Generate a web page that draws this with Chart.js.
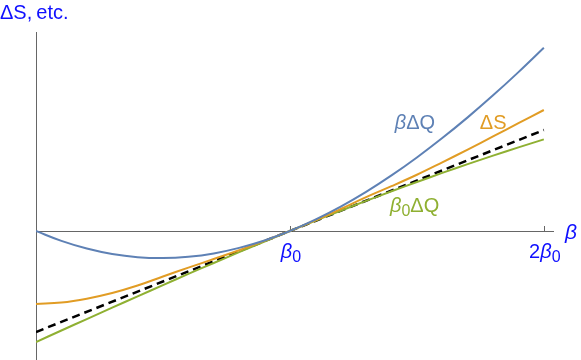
<!DOCTYPE html>
<html><head><meta charset="utf-8">
<script src="https://cdn.jsdelivr.net/npm/chart.js@4"></script>
<style>html,body{margin:0;padding:0;background:#fff}#wrap{width:581px;height:360px}</style>
</head><body><div id="wrap"><canvas id="c" width="581" height="360"></canvas></div>
<script>
// ---- data (y in arbitrary units, tangent slope = 1) ----
const betaValues   = [0,0.1,0.2,0.3,0.4,0.5,0.6,0.7,0.8,0.9,1.0,1.1,1.2,1.3,1.4,1.5,1.6,1.7,1.8,1.9,2.0];
const betaDeltaQ   = [0,-0.098,-0.174,-0.228,-0.259,-0.268,-0.255,-0.222,-0.167,-0.094,0,0.112,0.241,0.387,0.550,0.728,0.920,1.125,1.343,1.573,1.814];
const deltaS       = [-0.723,-0.708,-0.670,-0.614,-0.540,-0.450,-0.363,-0.277,-0.190,-0.097,0,0.105,0.218,0.336,0.444,0.557,0.680,0.806,0.936,1.067,1.198];
const beta0DeltaQ  = [-1.099,-0.985,-0.872,-0.759,-0.647,-0.536,-0.425,-0.317,-0.209,-0.104,0,0.102,0.201,0.298,0.393,0.485,0.575,0.662,0.746,0.828,0.907];
const tangentBeta  = [0, 2];
const tangentValue = [-1, 1];
const tickValues   = [1, 2];
const tickLabels   = ['β0', '2β0'];
const seriesNames  = ['βΔQ', 'ΔS', 'β0ΔQ'];
const axisLabelX   = 'β';
const axisLabelY   = 'ΔS,etc.';

// ---- styles ----
const COLORS = ['#5E81B5', '#E19C24', '#8FB032'];
const LABEL_BLUE = '#1010FF';
const FONT = '"Liberation Sans", Arial, Helvetica, sans-serif';
const FS = 20;
const labelAnchors = [ {x:1.413, y:1.005}, {x:1.748, y:1.005}, {x:1.394, y:0.191} ];

function pts(xs, ys){ return xs.map((x,i)=>({x:x, y:ys[i]})); }

// rich text: 'β' italic, digit right after β as subscript
function runsOf(s){
  const runs=[]; const ch=[...s];
  for(let i=0;i<ch.length;i++){
    const c=ch[i];
    if(c==='β') runs.push({t:c, it:true});
    else if(/[0-9]/.test(c) && i>0 && ch[i-1]==='β') runs.push({t:c, sub:true});
    else runs.push({t:c, gap: c===',' ? 4 : 0});
  }
  return runs;
}
function fontFor(r, size){ return (r.it?'italic ':'') + (r.sub? Math.round(size*0.8): size) + 'px ' + FONT; }
function drawRich(ctx, s, x, y, size, color, align){
  const runs = runsOf(s);
  let w=0;
  runs.forEach(r=>{ ctx.font=fontFor(r,size); r.w=ctx.measureText(r.t).width + (r.gap||0); w+=r.w; });
  let cx = align==='center' ? x - w/2 : x;
  ctx.fillStyle=color; ctx.textBaseline='alphabetic'; ctx.textAlign='left';
  runs.forEach(r=>{ ctx.font=fontFor(r,size); ctx.fillText(r.t, cx, y + (r.sub? size*0.2:0)); cx+=r.w; });
}

const axesPlugin = {
  id:'axesPlugin',
  beforeDatasetsDraw(chart){
    const {ctx, chartArea:a, scales:{x, y}} = chart;
    const x0 = x.getPixelForValue(0), y0 = y.getPixelForValue(0);
    ctx.save();
    ctx.strokeStyle='#666666'; ctx.lineWidth=1;
    ctx.beginPath();
    ctx.moveTo(a.left, Math.round(y0)+0.5); ctx.lineTo(a.right, Math.round(y0)+0.5);
    ctx.moveTo(Math.round(x0)+0.5, a.top); ctx.lineTo(Math.round(x0)+0.5, a.bottom);
    tickValues.forEach(v=>{ const px=Math.round(x.getPixelForValue(v))+0.5; ctx.moveTo(px, y0); ctx.lineTo(px, y0-5); });
    ctx.stroke();
    ctx.restore();
  },
  afterDatasetsDraw(chart){
    const {ctx, chartArea:a, scales:{x, y}} = chart;
    const y0 = y.getPixelForValue(0);
    ctx.save();
    tickValues.forEach((v,i)=>{ drawRich(ctx, tickLabels[i], x.getPixelForValue(v)+1, y0+27, FS, LABEL_BLUE, 'center'); });
    drawRich(ctx, axisLabelX, a.right+11, y0+8, FS+1, LABEL_BLUE, 'left');
    drawRich(ctx, axisLabelY, 0, a.top-13, FS, LABEL_BLUE, 'left');
    seriesNames.forEach((s,i)=>{ drawRich(ctx, s, x.getPixelForValue(labelAnchors[i].x), y.getPixelForValue(labelAnchors[i].y), FS, COLORS[i], 'left'); });
    ctx.restore();
  }
};

new Chart(document.getElementById('c'), {
  type:'line',
  data:{ datasets:[
    {data:pts(betaValues, betaDeltaQ), borderColor:COLORS[0], borderWidth:2, pointRadius:0, tension:0.4, fill:false},
    {data:pts(betaValues, deltaS), borderColor:COLORS[1], borderWidth:2, pointRadius:0, tension:0.4, fill:false},
    {data:pts(betaValues, beta0DeltaQ), borderColor:COLORS[2], borderWidth:2, pointRadius:0, tension:0.4, fill:false},
    {data:pts(tangentBeta, tangentValue), borderColor:'#000', borderWidth:2.5, borderDash:[8,5], pointRadius:0, tension:0, fill:false}
  ]},
  options:{
    responsive:false, animation:false, devicePixelRatio:1,
    layout:{padding:{left:36, right:27, top:32, bottom:0}},
    scales:{
      x:{type:'linear', display:false, min:0, max:2.04},
      y:{type:'linear', display:false, min:-1.2772, max:1.9703}
    },
    plugins:{legend:{display:false}, tooltip:{enabled:false}}
  },
  plugins:[axesPlugin]
});
</script></body></html>
